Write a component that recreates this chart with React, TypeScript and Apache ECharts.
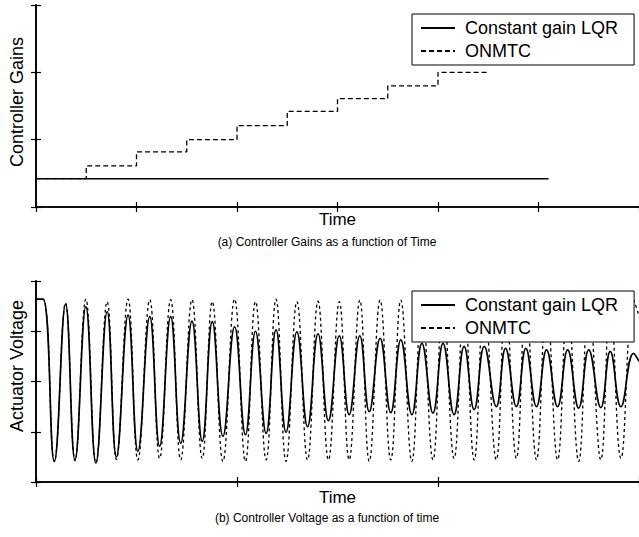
import React, { useEffect, useRef } from "react";
import * as echarts from "echarts";

// ---- Top panel: controller gains (step changes) ----
const gainStepTimes = [0, 0.5, 1, 1.5, 2, 2.5, 3, 3.5, 4, 4.5];
const gainStepValues = [0.42, 0.61, 0.82, 1.0, 1.21, 1.42, 1.61, 1.8, 2.0, 2.0];
const gainConstTimes = [0, 5.1];
const gainConstValues = [0.42, 0.42];

// ---- Bottom panel: actuator voltage (extrema) ----
const voltTimes = [
  0, 0.035, 0.091, 0.147, 0.194, 0.248, 0.298, 0.354, 0.4, 0.458, 0.507, 0.566,
  0.615, 0.67, 0.72, 0.776, 0.827, 0.877, 0.93, 0.988, 1.042, 1.092, 1.145,
  1.194, 1.244, 1.298, 1.351, 1.403, 1.455, 1.509, 1.558, 1.611, 1.658, 1.712,
  1.765, 1.815, 1.87, 1.92, 1.975, 2.025, 2.08, 2.13, 2.18, 2.23, 2.29, 2.336,
  2.39, 2.437, 2.49, 2.54, 2.595, 2.645, 2.7, 2.75, 2.81, 2.857, 2.91, 2.973, 3.0,
];
const voltLQR = [
  3.64, 3.64, 0.41, 3.54, 0.44, 3.49, 0.38, 3.39, 0.5, 3.32, 0.61, 3.29, 0.71,
  3.29, 0.77, 3.2, 0.81, 3.19, 0.91, 3.09, 0.94, 3.0, 0.97, 3.03, 0.99, 2.99,
  1.1, 2.95, 1.22, 2.91, 1.34, 2.91, 1.4, 2.86, 1.38, 2.83, 1.34, 2.76, 1.37,
  2.76, 1.34, 2.7, 1.44, 2.7, 1.5, 2.66, 1.5, 2.66, 1.5, 2.63, 1.5, 2.63, 1.47,
  2.63, 1.48, 2.6, 1.5, 2.56, 2.4,
];
const voltONMTC = [
  3.64, 3.64, 0.41, 3.56, 0.42, 3.64, 0.38, 3.59, 0.45, 3.64, 0.44, 3.63, 0.47,
  3.63, 0.44, 3.63, 0.47, 3.59, 0.41, 3.64, 0.41, 3.59, 0.44, 3.64, 0.41, 3.59,
  0.44, 3.6, 0.44, 3.59, 0.44, 3.62, 0.41, 3.62, 0.44, 3.62, 0.41, 3.6, 0.44,
  3.6, 0.47, 3.6, 0.44, 3.6, 0.44, 3.6, 0.47, 3.6, 0.44, 3.6, 0.44, 3.6, 0.41,
  3.6, 0.44, 3.6, 0.47, 3.62, 3.3,
];

const seriesNames = ["Constant gain LQR", "ONMTC"];
const FONT = "'Liberation Sans', Arial, Helvetica, sans-serif";

const zip = (xs: number[], ys: number[]) => xs.map((x, i) => [x, ys[i]]);

export default function App() {
  const ref = useRef<HTMLDivElement>(null);
  useEffect(() => {
    if (!ref.current) return;
    const chart = echarts.init(ref.current, undefined, { renderer: "svg" });
    const axisLine = { show: true, lineStyle: { color: "#000", width: 1.6 } };
    const tick = { show: true, inside: true, length: 5, lineStyle: { color: "#000", width: 1.2 } };
    const mkX = (grid: number, max: number, pos: "bottom" | "top", name?: string, gap?: number) => ({
      type: "value",
      gridIndex: grid,
      position: pos,
      min: 0,
      max,
      interval: 1,
      name: name || "",
      nameLocation: "middle",
      nameGap: gap || 0,
      nameTextStyle: { fontFamily: FONT, fontSize: 17, color: "#000" },
      axisLine,
      axisTick: tick,
      axisLabel: { show: false },
      splitLine: { show: false },
    });
    const mkY = (grid: number, max: number, pos: "left" | "right") => ({
      type: "value",
      gridIndex: grid,
      position: pos,
      min: 0,
      max,
      interval: 1,
      axisLine,
      axisTick: tick,
      axisLabel: { show: false },
      splitLine: { show: false },
    });
    const legendBase = {
      orient: "vertical",
      left: 412,
      backgroundColor: "#fff",
      borderColor: "#000",
      borderWidth: 1,
      padding: [5, 16, 5, 8],
      itemWidth: 34,
      itemHeight: 14,
      itemGap: 5,
      itemStyle: { opacity: 0, borderWidth: 0 },
      textStyle: { fontFamily: FONT, fontSize: 18, color: "#000", padding: [0, 0, 0, 5] },
      data: seriesNames,
    };
    const yName = (text: string, x: number, y: number) => ({
      type: "text",
      x,
      y,
      rotation: Math.PI / 2,
      style: {
        text,
        font: `18px ${FONT}`,
        fill: "#000",
        align: "center",
        verticalAlign: "middle",
      },
    });
    const caption = (text: string, y: number) => ({
      type: "text",
      x: 327,
      y,
      style: {
        text,
        font: `12px ${FONT}`,
        fill: "#000",
        align: "center",
        verticalAlign: "middle",
      },
    });
    chart.setOption({
      animation: false,
      backgroundColor: "#fff",
      grid: [
        { left: 36, right: -1, top: 5, height: 202 },
        { left: 36, right: -1, top: 281, height: 201 },
      ],
      xAxis: [
        mkX(0, 6, "bottom", "Time", 4),
        mkX(0, 6, "top"),
        mkX(1, 3, "bottom", "Time", 7),
        mkX(1, 3, "top"),
      ],
      yAxis: [mkY(0, 3, "left"), mkY(0, 3, "right"), mkY(1, 4, "left"), mkY(1, 4, "right")],
      legend: [
        { ...legendBase, top: 14 },
        { ...legendBase, top: 291 },
      ],
      series: [
        {
          name: seriesNames[0],
          type: "line",
          xAxisIndex: 0,
          yAxisIndex: 0,
          symbol: "none",
          lineStyle: { color: "#000", width: 1.6 },
          itemStyle: { color: "#000" },
          data: zip(gainConstTimes, gainConstValues),
        },
        {
          name: seriesNames[1],
          type: "line",
          xAxisIndex: 0,
          yAxisIndex: 0,
          symbol: "none",
          step: "end",
          lineStyle: { color: "#000", width: 1.3, type: [5, 3] },
          itemStyle: { color: "#000" },
          data: zip(gainStepTimes, gainStepValues),
        },
        {
          name: seriesNames[1],
          type: "line",
          xAxisIndex: 2,
          yAxisIndex: 2,
          symbol: "none",
          smooth: 0.45,
          lineStyle: { color: "#000", width: 1.3, type: [3, 3] },
          itemStyle: { color: "#000" },
          data: zip(voltTimes, voltONMTC),
        },
        {
          name: seriesNames[0],
          type: "line",
          xAxisIndex: 2,
          yAxisIndex: 2,
          symbol: "none",
          smooth: 0.45,
          lineStyle: { color: "#000", width: 1.7 },
          itemStyle: { color: "#000" },
          data: zip(voltTimes, voltLQR),
        },
      ],
      graphic: [
        yName("Controller Gains", 17, 102),
        yName("Actuator Voltage", 17, 366),
        caption("(a) Controller Gains as a function of Time", 242),
        caption("(b) Controller Voltage as a function of time", 518),
      ],
    });
    return () => chart.dispose();
  }, []);
  return (
    <div
      ref={ref}
      style={{ position: "fixed", left: 0, top: 0, width: 639, height: 537, background: "#fff" }}
    />
  );
}
